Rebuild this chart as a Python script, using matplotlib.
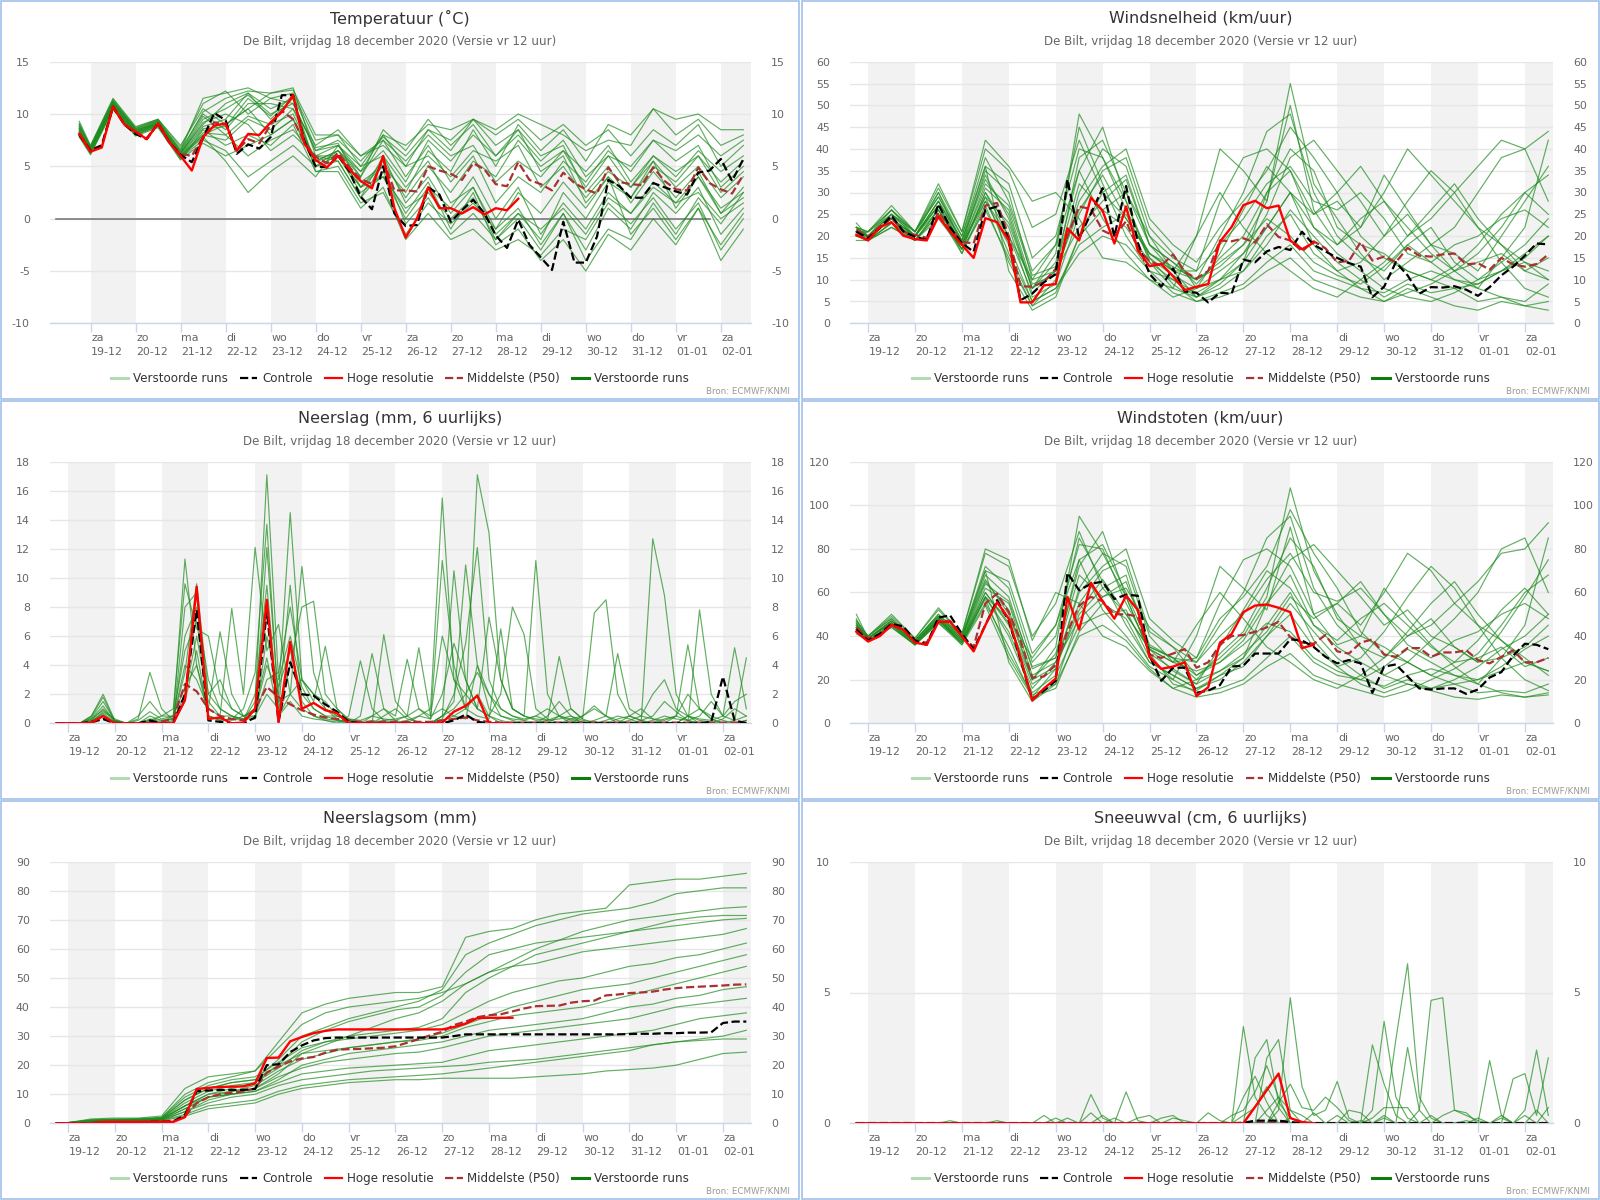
import numpy as np
import matplotlib
matplotlib.use("Agg")
import matplotlib.pyplot as plt
from matplotlib.patches import Rectangle
from matplotlib.lines import Line2D

plt.rcParams['font.family'] = ['DejaVu Sans']
plt.rcParams['axes.unicode_minus'] = False

# ---------------- labels ----------------
day_names = ['za', 'zo', 'ma', 'di', 'wo', 'do', 'vr', 'za', 'zo', 'ma', 'di', 'wo', 'do', 'vr', 'za']
day_dates = ['19-12', '20-12', '21-12', '22-12', '23-12', '24-12', '25-12', '26-12',
             '27-12', '28-12', '29-12', '30-12', '31-12', '01-01', '02-01']
subtitle = 'De Bilt, vrijdag 18 december 2020 (Versie vr 12 uur)'
legend_labels = ['Verstoorde runs', 'Controle', 'Hoge resolutie', 'Middelste (P50)', 'Verstoorde runs']

# time axes (days after 19-12 00 UTC)
steps_6h = np.arange(60) * 0.25 - 0.25
steps_12h = np.concatenate([[-0.25], np.arange(30) * 0.5])
zero_line_span = [-0.76, 13.75]

# ---------------- Temperatuur ----------------
temp_hr = [8.1,6.4,6.8,10.7,9.0,8.3,7.6,9.1,7.3,6.0, 4.6,7.8,8.9,9.1,6.5,8.1,8.0,9.2,10.2,11.8,
           7.2,5.6,4.9,6.0,4.7,3.6,2.9,6.0,1.0,-1.8, 0.0,3.0,1.0,1.0,0.5,1.1,0.4,1.0,0.8,1.9]
temp_ctrl = [8.0,6.5,7.0,10.7,9.0,8.1,7.6,9.1,7.3,6.1, 5.4,7.7,10.1,9.4,6.2,7.1,6.7,7.8,11.8,11.8,
             7.4,5.0,4.9,6.0,4.5,2.1,0.9,5.0,0.5,-0.7, -0.6,3.0,2.3,-0.3,0.8,1.8,0.5,-1.6,-2.8,-0.1,
             -2.5,-3.7,-4.9,-0.3,-4.2,-4.2,-1.7,3.7,3.1,2.0, 2.0,3.4,3.0,2.6,2.3,4.4,4.6,5.7,3.6,5.7]
temp_med = [8.1,6.6,7.0,10.7,9.0,8.3,7.7,9.1,7.3,6.2, 6.0,7.8,9.2,9.0,6.5,7.6,7.2,9.0,10.3,9.5,
            7.3,5.9,5.3,6.3,4.9,3.8,3.3,5.6,2.7,2.7, 2.6,5.0,4.6,4.3,3.7,5.3,4.7,3.3,3.1,5.4,
            3.7,3.3,2.7,4.4,3.4,2.8,2.4,4.9,3.5,3.3, 3.2,4.9,3.6,2.8,2.7,4.9,3.4,2.8,2.4,4.2]
temp_members = [
    [8.5, 6.5,10.8,8.3,9.1,6.2,9.5,10.5,11.8,10.0,11.0,6.5,7.5,5.5,7.8,6.0,8.5,7.5,9.5,8.5,10.0,9.0,8.0,6.5,7.5,7.0,10.5,9.5,10.0,8.5,8.5],
    [9.0, 6.8,11.2,8.6,9.4,6.5,11.5,12.0,12.5,11.5,12.0,7.5,8.0,5.0,6.0,3.0,5.5,1.5,3.0,-1.0,1.0,-2.5,0.5,-3.0,1.0,-1.0,2.5,0.5,3.0,-1.5,1.0],
    [7.9, 6.2,10.5,8.0,8.8,5.8,7.5,6.5,4.0,5.5,7.0,5.0,6.5,4.0,7.5,5.5,8.0,6.0,7.0,3.5,5.5,4.0,6.5,3.0,6.0,5.0,7.5,6.5,8.0,6.0,7.5],
    [9.3, 7.0,11.5,8.8,9.5,7.0,10.5,9.0,10.5,12.0,12.5,6.0,5.5,2.0,4.5,0.5,3.5,-1.0,2.5,-2.5,-1.0,-4.0,-2.0,-5.0,-1.5,-3.0,0.0,-2.5,1.0,-4.0,-1.0],
    [8.2, 6.4,10.7,8.2,9.0,6.0,8.0,7.5,9.5,8.5,10.5,5.5,6.5,3.5,5.0,2.5,6.5,4.5,8.5,5.0,9.0,6.5,8.5,5.5,9.0,8.0,10.5,8.0,9.5,7.0,8.0],
    [8.6, 6.6,11.0,8.4,9.2,6.3,9.0,11.0,12.0,9.5,11.5,4.5,5.0,1.5,2.5,-1.5,1.5,-0.5,1.5,-1.0,2.5,0.5,3.5,1.0,4.0,2.0,5.5,3.0,5.0,2.0,4.0],
    [8.0, 6.3,10.6,8.1,9.0,5.9,7.8,5.5,2.5,4.5,6.0,4.0,7.0,5.0,8.0,7.0,9.0,8.5,9.5,7.0,8.5,6.0,7.0,2.5,5.0,1.5,4.5,2.0,4.5,0.5,3.0],
    [8.8, 6.9,11.3,8.5,9.3,6.6,10.0,8.5,11.0,11.0,10.5,7.0,8.5,6.0,7.5,4.0,7.0,3.5,6.0,1.5,4.0,2.5,5.5,3.5,6.5,4.5,7.5,5.5,7.0,3.0,5.0],
    [7.8, 6.1,10.4,7.9,8.7,5.6,8.5,7.0,8.0,7.0,9.0,4.5,4.5,1.0,3.0,-2.0,0.5,-2.0,-1.0,-3.0,-2.0,-3.5,-1.0,-2.0,1.5,-0.5,2.0,-1.0,1.5,-3.0,0.0],
    [8.4, 6.7,11.0,8.3,9.2,6.1,8.8,9.5,12.0,10.5,11.5,5.0,6.0,3.0,5.5,2.0,5.0,2.5,5.5,4.0,7.5,5.0,6.5,4.5,7.0,3.5,6.0,4.0,6.5,4.5,6.0],
    [8.3, 6.5,10.9,8.2,9.1,6.2,9.2,10.0,9.0,6.5,8.0,6.0,7.0,4.5,8.0,5.0,8.5,6.5,9.5,8.0,9.5,7.5,9.0,7.0,8.5,6.0,8.5,7.0,9.0,5.0,7.0],
    [8.6, 6.6,11.1,8.5,9.0,6.0,8.2,8.0,9.8,9.0,10.0,5.5,6.0,2.5,4.0,0.0,3.0,1.0,4.0,0.0,3.0,-1.5,1.5,-1.0,2.5,0.5,3.5,1.5,4.0,1.0,2.5],
    [8.1, 6.4,10.6,8.0,8.9,5.7,7.2,6.0,7.0,8.0,9.5,5.0,5.5,2.0,6.0,1.5,4.0,0.5,3.0,-1.5,0.5,-2.0,2.5,0.0,3.5,2.0,5.0,3.5,6.0,2.5,4.5],
    [9.1, 6.8,11.2,8.6,9.4,6.4,10.2,11.5,12.2,12.0,12.3,8.0,8.0,6.0,7.0,5.0,6.0,4.0,6.5,5.5,7.0,3.0,5.0,2.0,4.5,3.0,6.0,4.5,6.0,3.5,5.5],
    [8.7, 6.7,11.0,8.4,9.3,6.3,9.8,8.0,6.0,7.5,8.5,6.0,6.0,3.0,4.0,1.0,2.5,0.0,2.0,-2.0,0.5,-1.0,1.0,-1.5,2.0,0.5,3.0,1.5,2.5,0.0,1.5],
    [8.0, 6.3,10.5,8.0,8.9,5.8,8.0,9.0,10.5,8.0,9.5,5.5,6.5,4.5,6.5,3.5,7.5,5.5,8.0,6.0,8.5,4.5,6.0,1.5,4.0,-1.5,1.0,-2.0,1.0,-2.5,0.5],
    [8.9, 6.9,11.4,8.7,9.5,6.8,11.0,12.2,10.0,11.5,11.0,6.5,7.0,4.0,8.5,6.5,9.5,7.0,9.0,6.0,8.0,5.5,7.5,4.0,6.0,3.0,5.5,1.0,4.0,0.5,2.0],
    [8.3, 6.5,10.8,8.2,9.0,6.0,8.6,8.8,11.5,9.8,11.8,6.8,7.2,3.0,5.0,-0.5,2.0,-1.5,0.5,-2.0,0.0,-3.0,0.5,-4.0,-1.0,-2.0,1.5,-1.5,2.0,-0.5,2.5],
]

# ---------------- Windsnelheid ----------------
wind_hr = [20.3,19.0,22.0,23.2,20.1,19.3,19.0,24.5,21.0,18.0, 15.0,24.1,23.2,19.0,4.8,4.8,8.7,9.0,21.8,19.0,
           28.8,25.8,18.3,26.8,16.7,13.1,13.6,10.8,7.6,8.4, 9.0,18.7,22.1,27.1,28.1,26.4,27.0,19.0,17.0,18.5]
wind_ctrl = [21.0,19.5,21.8,24.7,21.1,19.8,19.2,27.3,22.0,18.4, 16.4,26.0,26.8,18.8,5.3,6.8,9.4,11.3,33.0,19.5,
             25.2,31.0,20.0,31.5,18.5,11.3,8.4,12.6,7.3,7.0, 4.8,7.0,6.8,14.6,14.0,16.5,17.5,16.8,21.0,18.0,
             16.5,15.0,13.8,13.0,6.0,8.4,14.0,11.0,6.8,8.3, 8.2,8.5,7.7,6.3,8.3,11.0,13.0,15.5,18.3,18.1]
wind_med = [21.5,19.8,22.2,24.2,21.0,20.3,19.6,25.5,21.8,18.7, 18.3,27.0,27.6,20.0,8.5,8.4,9.5,12.5,20.0,26.8,
            26.2,21.3,20.0,23.4,17.2,14.2,13.2,15.8,11.8,10.3, 12.0,19.0,18.8,19.5,18.5,22.7,19.8,19.0,16.5,18.8,
            17.2,14.0,14.3,18.6,14.4,15.3,14.0,17.3,15.5,15.3, 15.8,16.0,13.5,13.8,12.3,15.0,13.5,13.0,13.6,15.8]
wind_members = [
    [21, 20,24,20,28,18,35,30,10,12,38,42,30,18,14,10,20,30,44,48,30,20,15,12,18,22,14,10,12,15,20],
    [22, 19,23,19,25,17,30,22,6,9,25,35,38,22,16,8,12,16,25,38,42,35,28,20,25,18,16,12,20,28,36],
    [20, 21,26,21,30,20,38,28,12,18,45,32,20,12,10,6,8,12,18,26,20,14,10,6,9,7,8,5,6,5,9],
    [23, 20,25,20,27,16,28,18,5,8,18,22,25,15,9,5,7,9,14,18,12,10,8,7,10,12,10,8,15,22,42],
    [20, 19,22,19,24,17,26,15,4,10,30,40,36,20,12,12,28,38,40,35,25,28,22,30,40,34,28,22,18,12,10],
    [21, 20,25,21,29,19,33,25,8,14,35,45,28,14,8,6,10,14,22,30,18,12,8,5,8,6,4,3,5,4,5],
    [22, 21,27,21,32,21,40,35,22,25,42,30,24,16,12,20,30,22,16,12,8,6,10,14,20,26,32,24,18,14,10],
    [21, 19,23,20,26,18,28,20,7,12,22,28,33,18,14,9,15,20,30,40,35,22,18,16,12,10,13,18,25,30,25],
    [20, 20,24,20,27,18,31,26,9,11,28,36,40,24,18,14,22,28,35,45,38,30,20,15,12,10,8,9,12,16,20],
    [22, 20,24,19,26,17,29,16,5,8,16,20,18,12,7,5,6,8,12,15,10,8,6,5,7,9,12,16,22,30,34],
    [21, 21,25,21,29,20,36,32,15,20,40,38,26,16,13,10,14,18,28,55,32,24,16,10,14,18,22,30,38,40,28],
    [19, 19,22,19,25,16,27,14,4,7,20,26,22,14,10,7,10,12,20,25,16,12,14,20,28,35,30,22,14,8,6],
    [21, 20,24,20,28,19,34,24,8,16,48,38,28,15,11,8,16,26,36,30,22,18,24,28,22,16,12,14,16,12,15],
    [22, 20,26,20,30,18,32,27,11,13,32,26,30,20,15,12,18,24,32,36,28,26,30,24,16,14,18,20,24,26,22],
    [21, 20,25,20,28,19,36,12,3,6,20,30,34,18,12,6,9,14,30,35,22,16,12,8,6,5,7,10,14,18,24],
    [20, 19,23,19,26,17,30,20,10,18,35,24,16,10,8,20,40,35,28,50,26,18,22,34,26,18,12,8,6,4,3],
    [22, 21,26,21,31,21,42,36,28,30,24,15,14,10,6,8,10,16,22,30,25,30,36,28,20,24,30,36,42,40,44],
    [21, 20,24,20,27,18,29,23,8,12,26,34,24,16,12,10,13,18,24,20,14,11,9,13,18,14,10,9,12,14,12],
]

# ---------------- Neerslag (6-uurlijks) ----------------
rain_hr = [0,0,0,0.05,0.5,0,0,0,0,0, 0,1.6,9.4,0.3,0.4,0,0.05,1.0,8.5,0.1,
           5.6,1.0,1.4,0.9,0.7,0,0,0,0,0, 0,0,0,0.05,0.8,1.2,1.9,0,0,0]
rain_ctrl = [0,0,0,0.1,0.3,0,0,0,0.2,0, 0,2.0,7.8,0.2,0.1,0,0,0.4,7.7,0.1,
             4.2,2.0,1.9,1.3,0.8,0.1,0,0,0,0, 0,0,0,0,0.2,0.6,0.1,0,0,0,
             0,0,0,0,0,0,0,0,0,0, 0,0,0,0,0,0,0.1,3.2,0.2,0]
rain_med = [0,0,0,0.05,0.3,0.05,0,0,0.1,0.1, 0.3,2.7,2.2,1.0,0.5,0.3,0.2,1.0,2.5,1.8,
            1.3,0.9,0.6,0.4,0.3,0.2,0.1,0.1,0.1,0.1, 0.1,0.1,0.1,0.2,0.3,0.4,0.2,0.1,0.05,0.05,
            0.05,0.05,0.05,0.05,0.05,0.05,0.05,0.05,0.05,0.05, 0.05,0.05,0.05,0.05,0.05,0.05,0.05,0.05,0.05,0.05]
rain_members = [
    [0,0,0,0.3,1.2,0.1,0,0,0.5,0.2, 0.3,3.5,9.6,2.0,1.0,0.5,0.2,1.5,17.1,3.0, 6.0,2.5,1.0,0.5,0.2,0.1,0,0,0,0,
     0.2,0.5,0.3,2.0,5.5,3.0,1.0,0.5,0.2,0, 0,0,0,0.5,1.0,0.3,0,0,0,0, 0.2,0.5,1.5,0.8,0.2,0,0,0.3,1.0,0.5],
    [0,0,0,0.5,2.0,0.2,0,0,0.2,0.1, 0.5,11.3,4.0,1.0,6.3,2.0,0.5,0.8,4.0,2.0, 14.5,3.0,2.0,1.0,0.5,0.2,0,0,0.5,1.0,
     0.3,0.1,0,0.5,1.5,10.9,4.0,2.0,0.5,0.2, 0,0,0.5,1.5,0.5,0,0,0.2,0.5,0.3, 0,0,0,0.5,2.0,1.0,0.3,0,0,0.2],
    [0,0,0,0.1,0.8,0.3,0,0.3,3.5,1.0, 0.2,2.0,6.0,1.5,0.5,7.9,2.0,12.1,5.0,6.8, 2.0,10.8,3.5,1.0,0.3,0,0,0.2,0,0,
     0,0,0,0.2,0.5,1.0,17.1,13.1,3.0,1.0, 0.5,0.2,0,0,0,0.5,1.2,0.5,0,0, 0,12.7,8.8,2.0,0.5,0,0,0,0,0],
    [0,0,0,0.2,0.6,0,0,0,0.1,0, 0,1.5,5.0,0.5,0.2,0.3,1.0,3.5,13.7,1.0, 9.5,1.5,0.5,0.2,0,0.5,4.3,1.0,0.2,0,
     0,0.5,1.0,15.5,3.0,1.0,2.0,0.5,0,0, 0,0,0.2,0.5,0.3,0.1,0,0,0,0.5, 1.0,0.3,0,0,0,7.8,2.0,0.5,0.2,0.5],
    [0,0,0,0.4,1.5,0.2,0,0,0,0, 0.2,6.0,8.0,3.0,1.0,0.5,0.3,0.5,2.0,1.0, 4.0,8.0,8.4,2.0,1.0,0.2,0,0,6.1,1.5,
     0.5,0,0,0.5,10.5,3.0,1.0,0.5,2.0,8.0, 6.1,1.0,0.3,0,0,0,0.2,0.5,0.2,0, 0,0,0.3,0.5,0.2,0,0,0,0.2,4.5],
    [0,0,0,0,0.5,0.1,0,0,0.2,0.5, 1.0,9.6,6.5,6.0,2.0,1.0,0.5,0.8,12.1,1.5, 2.0,3.0,1.5,5.3,1.0,0.3,0,0.5,1.0,0.5,
     4.4,1.0,0.3,11.2,4.0,1.0,0.5,0.3,6.5,1.0, 0.5,11.2,2.0,0.5,0.2,0,0,0,0.3,0.5, 0.2,0,0,0,0.5,1.0,0.3,0,0,0],
    [0,0,0,0.2,1.0,0.2,0,0.5,1.5,0.5, 0.5,2.5,4.0,0.5,0.3,0.2,0.5,1.0,4.5,0.5, 1.5,0.5,0.3,0.2,0.1,0,0.5,4.8,1.0,0.2,
     0,0,0,0.3,2.0,5.5,12.1,3.0,1.0,0.5, 0.3,0.5,0.2,4.6,1.0,0.3,7.6,8.5,2.0,0.5, 0.2,0,0,0,0.5,0.3,0.2,0.5,5.2,1.0],
    [0,0,0,0.1,0.7,0.1,0,0,0.3,0.2, 0.3,4.0,3.0,1.0,0.5,0.5,0.3,0.3,6.0,2.5, 5.0,2.0,1.0,0.5,0.5,0.2,0,0,0.2,0.3,
     0.5,5.2,0.5,1.0,0.5,0.3,4.0,1.0,0.5,0.3, 0.2,0,0,0,0.3,0.5,1.0,0.5,4.8,1.0, 0.5,0.3,0.2,0.5,5.4,1.0,0.5,0.2,0,0],
    [0,0,0,0.3,0.9,0.2,0,0,0.1,0, 0.1,8.0,9.0,0.5,0.2,0.3,0.2,2.0,9.5,0.5, 2.0,1.0,0.5,0.3,0.2,0,0,0,0,0,
     0,0,0,0.5,1.0,2.0,3.5,2.0,1.0,0.5, 0.2,0.5,1.0,0.5,0,0,0,0,0,0.2, 0.5,2.0,3.0,1.0,0.5,0.2,0.1,0,0,0.2],
    [0,0,0,0.5,1.8,0.1,0,0.2,0.8,0.3, 0.5,5.0,7.0,2.0,3.0,1.0,0.5,0.5,3.0,3.5, 8.0,3.0,2.0,1.5,0.5,0.3,0.2,0.5,0.3,0.2,
     0.5,1.0,0.5,6.0,3.0,2.0,1.0,7.3,3.0,1.0, 0.5,0.3,0.2,0.3,0.5,0.2,0.1,0,0,0, 0,0.2,0.5,0.3,0.2,0.5,1.5,0.5,1.5,2.0],
]

# ---------------- Windstoten ----------------
gust_hr = [42,37.5,40,45,43,37,36,46.5,46.5,40, 33,45,55.5,48,30,10.5,16,20.5,58,43,
           64.5,56,48,58.5,52,30.5,25,26,28,12.5, 16.5,37,41,51,54,54.5,53,51,34.5,36]
gust_ctrl = [43,38,41,45.5,44.5,38,36,48.5,49.5,41, 34,45,56.5,47,29,11,15,19.5,69,61,
             64,65,57,59,58.5,31,19.5,25.5,25.5,14, 15,17.5,26,26.5,32,32,32,38.5,38,35,
             30.5,27.5,29,27.5,14,26,27,21.5,16,15.5, 16,16,13.5,15.5,21,23.5,31,36.5,36,34]
gust_med = [44,39,41,46,44,38,37,47,47,40, 35,55,59.5,51,38,21,21.5,27,42,54,
            58,56,50,50,49,31.5,30,32,34,25.5, 28,36,40,40.5,42,44,46.5,39.5,37,36.5,
            40.5,33,32,37,38.5,31.5,30.5,34.5,34.5,30.5, 32.5,32.5,33.5,29,27.5,30.5,33.5,28,28,30]
gust_members = [
    [44, 39,46,37,48,39,68,58,25,30,75,82,60,35,30,28,45,60,85,95,62,45,35,30,40,48,35,28,30,35,45],
    [46, 38,45,36,47,37,60,45,18,25,55,70,75,42,35,22,28,38,55,75,82,70,58,45,52,40,35,28,42,58,75],
    [42, 40,48,38,50,40,72,62,28,40,85,65,45,28,22,16,20,28,40,55,42,30,22,16,20,16,18,14,15,14,18],
    [50, 39,46,37,48,36,58,40,14,22,45,50,52,30,20,14,16,20,30,40,28,22,20,17,22,25,22,18,30,45,85],
    [44, 38,44,36,46,37,55,35,12,25,62,78,72,40,28,30,55,75,80,72,50,55,45,60,78,70,55,45,38,28,24],
    [45, 39,47,38,49,39,65,52,20,32,72,88,58,32,18,15,22,30,45,60,38,26,18,14,18,15,12,11,13,12,14],
    [47, 40,50,39,53,41,78,72,40,55,88,62,50,34,28,45,60,48,35,28,20,16,22,30,42,55,65,50,38,30,22],
    [43, 38,45,37,47,38,58,42,16,28,48,58,65,36,30,20,32,42,62,85,72,48,40,35,28,22,28,38,52,62,50],
    [44, 39,46,37,48,38,62,55,22,28,60,72,80,48,38,30,48,58,72,98,78,62,42,32,28,22,18,20,26,34,40],
    [48, 38,45,36,47,37,57,32,13,18,40,45,38,25,16,12,14,18,26,32,22,18,15,12,15,20,25,32,45,60,68],
    [45, 40,48,38,50,40,70,65,32,45,82,80,55,35,30,22,30,40,58,108,70,50,35,22,28,38,48,60,80,85,60],
    [41, 38,44,36,46,36,54,30,12,16,42,55,48,28,22,16,22,26,40,50,35,26,30,42,58,72,62,45,30,20,15],
    [46, 39,47,38,49,40,66,50,20,35,95,78,58,32,25,18,35,52,70,62,45,38,48,55,45,35,28,30,35,26,30],
    [43, 39,46,37,48,38,64,56,26,30,68,58,62,44,35,28,40,50,66,78,60,56,62,50,36,30,38,42,50,55,48],
    [45, 39,47,38,49,39,70,28,10,18,50,62,68,34,24,18,24,30,55,68,45,35,28,22,18,16,20,26,34,40,50],
    [43, 38,45,36,47,37,58,48,30,45,75,52,40,26,20,40,72,62,52,90,50,36,40,62,48,36,26,18,14,12,13],
    [47, 40,49,39,52,41,80,75,38,60,55,40,35,24,16,20,24,32,42,58,48,55,65,50,40,45,55,65,78,80,92],
    [44, 39,46,37,48,38,60,46,20,26,52,66,50,34,28,24,28,36,46,42,30,24,20,26,34,28,22,20,24,28,24],
]

# ---------------- Neerslagsom ----------------
cum_hr = [0,0,0,0.05,0.5,0.5,0.5,0.5,0.5,0.5, 0.5,2.1,11.8,12.2,12.5,12.6,12.7,13.7,22.5,22.6,
          28.2,29.7,31.0,31.8,32.3,32.3,32.3,32.3,32.3,32.3, 32.3,32.3,32.3,32.3,33.1,34.3,36.2,36.3,36.3,36.3]
cum_ctrl = [0,0,0,0,0.3,0.3,0.3,0.3,0.5,0.5, 0.5,3.0,11.0,11.3,11.5,11.5,11.5,11.8,20.0,20.3,
            24.5,26.8,28.5,29.3,29.5,29.5,29.5,29.5,29.5,29.5, 29.5,29.5,29.5,29.5,30.0,30.6,30.6,30.6,30.6,30.6,
            30.6,30.6,30.6,30.6,30.6,30.6,30.6,30.6,30.6,30.7, 30.8,30.8,31.0,31.0,31.2,31.2,31.3,34.5,35.0,35.0]
cum_med = [0,0,0,0.1,0.4,0.5,0.5,0.5,0.6,0.7, 0.8,2.5,6.9,9.0,10.0,10.5,11.0,12.0,17.5,19.5,
           21.3,22.3,22.8,24.3,25.3,25.5,25.6,25.8,26.0,26.5, 27.7,29.0,30.3,31.5,33.8,35.0,36.5,37.2,37.5,38.5,
           39.5,40.3,40.4,40.5,41.5,42.0,42.2,44.0,44.3,44.8, 45.0,45.3,46.0,46.5,46.8,47.0,47.2,47.4,47.7,47.8]
cum_members = [
    [0, 0.2,1.5,1.8,1.8,2.5,12,16,17,18,28,38,41,43,44,45,45,47,64,66,67,70,72,73,74,82,83,84,84,85,86],
    [0, 0.1,1.0,1.2,1.3,1.8,8,12,14,15,22,30,33,36,38,40,42,46,58,62,65,68,70,72,73,74,76,79,80,81,81],
    [0, 0.3,1.2,1.5,1.6,2.0,10,14,16,18,26,34,38,40,41,42,43,45,48,52,56,60,63,66,68,70,71,72,73,74,74.5],
    [0, 0.1,0.8,1.0,1.1,1.5,6,10,12,14,20,28,32,35,37,39,40,44,52,58,60,62,63,64,65,66,68,70,71,71.5,71.5],
    [0, 0.2,1.1,1.3,1.4,2.0,9,13,15,16,21,26,28,30,31,32,33,36,45,50,54,58,60,62,64,66,67,68,69,70,70.5],
    [0, 0.1,0.6,0.8,0.9,1.2,5,9,11,12,17,24,27,30,33,36,38,42,48,52,54,55,57,59,60,61,62,63,64,65,67],
    [0, 0.2,0.9,1.1,1.2,1.6,7,11,13,14,19,25,28,29,30,31,32,34,38,42,45,47,49,50,52,54,55,57,58,60,62],
    [0, 0.1,0.7,0.9,1.0,1.4,6,10,11,13,18,22,24,26,27,28,29,31,34,37,40,42,44,46,47,48,50,52,54,56,58],
    [0, 0.2,1.0,1.2,1.3,1.7,8,12,14,15,20,24,25,26,27,28,28.5,30,33,35,37,38,39,40,42,44,46,48,50,52,54],
    [0, 0.1,0.5,0.7,0.8,1.1,4,8,10,11,15,20,22,24,25,26,27,28,30,32,33,34,35,36,38,40,41,43,44,46,47],
    [0, 0.1,0.6,0.8,0.9,1.2,5,9,10,12,16,19,21,22,23,24,24.5,26,28,30,31,32,33,34,35,36,38,40,41,42,43],
    [0, 0.2,0.8,1.0,1.1,1.5,6,9,10,11,14,17,18,19,19.5,20,20.5,21,23,25,26,27,28,29,30,31,32,34,36,37,38],
    [0, 0.1,0.5,0.6,0.7,1.0,3,6,7,8,11,13,14,15,15.5,16,16.5,17,18,19,20,21,22,23,24,25,27,28,29,30,32],
    [0, 0.1,0.4,0.5,0.6,0.8,2.5,5,6,7,10,12,13,14,14.5,15,15,15.5,15.5,15.5,15.5,16,16.5,17,18,18.5,19,20,22,24,24.5],
    [0, 0.1,0.5,0.6,0.7,1.0,4,7,9,10,13,15,16,17,18,18.5,19,19.5,20,21,21.5,22,23,24,25,26,27,28,28.5,29,29],
]

# ---------------- Sneeuwval (6-uurlijks) ----------------
snow_hr = [0,0,0,0,0,0,0,0,0,0, 0,0,0,0,0,0,0,0,0,0, 0,0,0,0,0,0,0,0,0,0, 0,0,0,0,0.63,1.27,1.9,0.2,0.05,0]
snow_ctrl = [0,0,0,0,0,0,0,0,0,0, 0,0,0,0,0,0,0,0,0,0, 0,0,0,0,0,0,0,0,0,0,
             0,0,0,0.02,0.1,0.1,0.1,0.05,0,0, 0,0,0,0,0,0,0,0,0,0, 0,0,0,0,0,0,0,0,0,0]
snow_med = [0,0,0,0,0,0,0,0,0,0, 0,0,0,0,0,0,0,0,0,0, 0,0,0,0,0,0,0,0,0,0,
            0,0,0,0,0,0,0,0,0,0, 0,0,0,0,0,0,0,0,0,0, 0,0,0,0,0,0,0,0,0,0]
snow_members = [
    [0,0,0,0,0,0,0,0,0,0, 0,0,0,0,0,0,0,0,0,0, 0,0,0,0,0,0,0,0,0,0,
     0,0,0,3.7,1.0,0.3,0,0,0,0, 0,0,0,0,0.5,3.9,1.0,0.2,0,0, 0,0,0,0,0,0,0,0,0,0],
    [0,0,0,0,0,0,0,0,0,0, 0,0,0,0,0,0,0,0,0,0, 0,0,0,0,0,0,0,0,0,0,
     0,0,0,0,2.5,3.2,0.8,0.2,0,0, 0,0,0,0,0,0,0,0,0.5,4.7, 4.8,0.5,0.3,0.1,0,0,0,0,0,0],
    [0,0,0,0,0,0,0,0,0,0, 0,0,0,0,0,0,0,0,0,0, 0,0,0,0,0,0,0,0,0,0,
     0,0,0,0,0,2.5,3.2,0.5,0,0, 0,0,0,0,0,0,3.2,6.1,1.0,0.2, 0,0,0,0,0,0,0,0,0,0],
    [0,0,0,0,0,0,0,0,0,0, 0,0,0,0,0,0,0,0,0,0, 0,0,0,0,0,0,0,0,0,0,
     0,0,0,0,0,0,0.5,4.8,1.4,0.3, 0.5,1.6,0.2,0,0,0,0,0,0,0, 0,0,0,0,0,0,0,0.5,2.8,0.3],
    [0,0,0,0,0,0,0,0,0,0, 0,0,0,0,0,0,0,0,0,0, 1.1,0.2,0,0,0,0,0,0,0,0,
     0,0,0,1.0,1.8,0.8,0,0,0,0, 0,0,0,0,3.0,1.5,0.3,0,0,0, 0,0,0,0,2.4,0.3,0,0,0,0],
    [0,0,0,0,0,0,0,0,0,0, 0,0,0,0,0,0,0,0,0,0, 0,0,0,1.2,0.1,0,0,0,0,0,
     0,0,0.3,0.5,1.2,2.2,1.0,0.5,0.3,0, 0,0,0,0,0,0,0,2.9,0.5,0, 0,0,0,0,0,0,1.7,1.9,0.3,2.5],
    [0,0,0,0,0,0,0,0,0,0, 0,0,0,0,0,0,0.3,0,0,0, 0,0,0,0,0,0,0,0,0,0,
     0,0,0,0,0,0,0.8,1.5,0.6,0.5, 1.0,0.6,0.1,0,0,0,0,0,0,0, 0.3,0.5,0.4,0,0,0,0,0,0,0],
    [0,0,0,0,0,0,0,0,0,0, 0,0,0.1,0,0,0,0,0,0.2,0, 0,0.3,0,0,0.2,0.3,0,0,0,0,
     0,0,0,0.3,0.6,1.4,0.6,0,0,0.4, 0,0,0.5,0.4,0,0.3,0,0,0,0, 0,0,0,0.2,0,0.3,0,0,0.5,0],
    [0,0,0,0,0,0,0,0,0,0, 0,0,0,0,0,0,0,0,0,0, 0.4,0,0.2,0,0,0,0,0.2,0.1,0,
     0.4,0.1,0,0,0,0.5,1.0,0,0,0, 0,0,0,0,0.2,0.6,0.6,0.6,0,0.3, 0,0,0,0,0,0,0,0.3,0,0.6],
    [0,0,0,0,0,0,0,0,0.1,0, 0,0,0,0,0,0,0,0.2,0,0, 0,0,0,0,0,0,0.2,0.3,0,0,
     0,0,0,0,0,0,0,0.2,0,0, 0,0.3,0,0.1,0,0.2,0,0,0,0, 0,0,0.1,0,0,0.2,0,0,0,0],
]

# ---------------- drawing ----------------
W, H = 1600, 1200
fig = plt.figure(figsize=(16, 12), dpi=100)
fig.patch.set_facecolor('white')

C_MEMBER = '#1f8c1f'
C_MED = '#a83232'
C_GRID = '#e6e6e6'
C_AXIS = '#ccd6eb'
C_BAND = '#f2f2f2'
C_LABEL = '#666666'

COLS = {0: (0, 800, 50, 751), 1: (801, 1600, 850, 1553)}


def panel(col, row, title, ylim, yticks, xlim, members, mem_t, hr, ctrl, med, zero_span=None):
    px0, px1, ax0, ax1 = COLS[col]
    top = 400 * row
    fig.add_artist(Rectangle(((px0 + 1) / W, 1 - (top + 399) / H), (px1 - px0 - 2) / W, 398 / H,
                             transform=fig.transFigure, fill=False, edgecolor='#a3c0ee', lw=1.2))
    cx = (px0 + px1) / 2 / W
    fig.text(cx, 1 - (top + 18.3) / H, title, ha='center', va='center', fontsize=11.5, color='#333333')
    fig.text(cx, 1 - (top + 41.7) / H, subtitle, ha='center', va='center', fontsize=8.6, color=C_LABEL)
    fig.text((px1 - 10) / W, 1 - (top + 391) / H, 'Bron: ECMWF/KNMI', ha='right', va='center',
             fontsize=6.3, color='#999999')

    ax = fig.add_axes([ax0 / W, 1 - (top + 323.3) / H, (ax1 - ax0) / W, 261.6 / H])
    ax.set_xlim(*xlim)
    ax.set_ylim(*ylim)
    for k in range(0, 16, 2):
        ax.axvspan(k, k + 1, color=C_BAND, lw=0, zorder=0)
    ax.set_axisbelow(True)
    ax.set_yticks(yticks)
    ax.grid(axis='y', color=C_GRID, lw=1)
    for s in ('top', 'left', 'right'):
        ax.spines[s].set_visible(False)
    ax.spines['bottom'].set_color(C_AXIS)
    ax.spines['bottom'].set_linewidth(1)
    ax.tick_params(axis='y', left=False, right=False, labelleft=True, labelright=True,
                   labelsize=7.9, labelcolor=C_LABEL, pad=11)
    ax.set_xticks(range(15))
    ax.tick_params(axis='x', length=6.5, width=1, color=C_AXIS, labelbottom=False)
    for d in range(15):
        ax.annotate(day_names[d], xy=(d, 0), xycoords=('data', 'axes fraction'),
                    xytext=(0.5, -10.8), textcoords='offset points', ha='left', va='center',
                    fontsize=7.9, color=C_LABEL, annotation_clip=False)
        ax.annotate(day_dates[d], xy=(d, 0), xycoords=('data', 'axes fraction'),
                    xytext=(0.5, -20.9), textcoords='offset points', ha='left', va='center',
                    fontsize=7.9, color=C_LABEL, annotation_clip=False)

    if zero_span is not None:
        ax.plot(zero_span, [0, 0], color='#7a7a7a', lw=1.2, zorder=1)
    for m in members:
        ax.plot(mem_t[:len(m)], m, color=C_MEMBER, lw=0.85, alpha=0.7, zorder=2)
    ax.plot(steps_6h[:len(med)], med, color=C_MED, lw=1.6, ls='--', zorder=3)
    ax.plot(steps_6h[:len(ctrl)], ctrl, color='black', lw=1.6, ls='--', zorder=4)
    ax.plot(steps_6h[:len(hr)], hr, color='#ff0000', lw=1.7, zorder=5)

    handles = [Line2D([], [], color='#b3dbb3', lw=2.2),
               Line2D([], [], color='black', lw=1.6, ls='--'),
               Line2D([], [], color='#ff0000', lw=1.6),
               Line2D([], [], color=C_MED, lw=1.6, ls='--'),
               Line2D([], [], color='#0a7d0a', lw=2.2)]
    leg = fig.legend(handles, legend_labels, loc='center', bbox_to_anchor=(cx, 1 - (top + 378.3) / H),
                     ncol=5, frameon=False, fontsize=8.6, handlelength=1.45, handletextpad=0.4,
                     columnspacing=1.0, borderpad=0)
    for t in leg.get_texts():
        t.set_color('#333333')
    return ax


panel(0, 0, 'Temperatuur (˚C)', (-10, 15), range(-10, 16, 5), (-0.90, 14.67),
      temp_members, steps_12h, temp_hr, temp_ctrl, temp_med, zero_span=zero_line_span)
panel(1, 0, 'Windsnelheid (km/uur)', (0, 60), range(0, 61, 5), (-0.385, 14.6),
      wind_members, steps_12h, wind_hr, wind_ctrl, wind_med)
panel(0, 1, 'Neerslag (mm, 6 uurlijks)', (0, 18), range(0, 19, 2), (-0.385, 14.6),
      rain_members, steps_6h, rain_hr, rain_ctrl, rain_med)
panel(1, 1, 'Windstoten (km/uur)', (0, 120), range(0, 121, 20), (-0.385, 14.6),
      gust_members, steps_12h, gust_hr, gust_ctrl, gust_med)
panel(0, 2, 'Neerslagsom (mm)', (0, 90), range(0, 91, 10), (-0.385, 14.6),
      cum_members, steps_12h, cum_hr, cum_ctrl, cum_med)
panel(1, 2, 'Sneeuwval (cm, 6 uurlijks)', (0, 10), range(0, 11, 5), (-0.385, 14.6),
      snow_members, steps_6h, snow_hr, snow_ctrl, snow_med)

fig.savefig('out.png', dpi=100, facecolor='white')
